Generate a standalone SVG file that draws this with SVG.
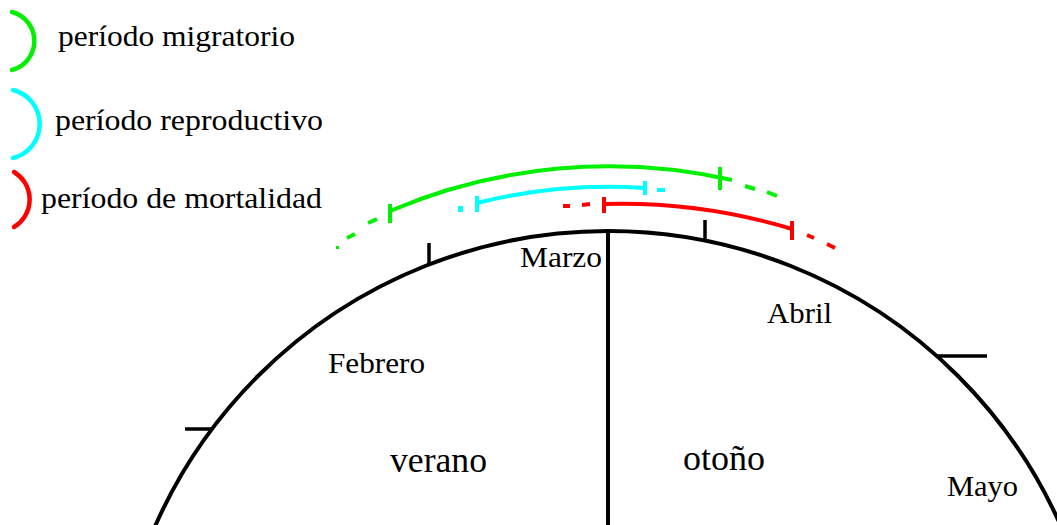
<svg xmlns="http://www.w3.org/2000/svg" width="1057" height="525" viewBox="0 0 1057 525">
<style>
.t{font-family:"Liberation Serif","Times New Roman",serif;fill:#000}
.m{font-size:30px}
.s{font-size:36px}
.blk{fill:none;stroke:#000;stroke-width:4}
.tk{fill:none;stroke:#000;stroke-width:3.5}
.g{fill:none;stroke:#00f000;stroke-width:4}
.c{fill:none;stroke:#00ffff;stroke-width:4}
.r{fill:none;stroke:#ff0000;stroke-width:4}
.lg{fill:none;stroke-width:4.5;stroke-linecap:round}
</style>
<rect width="1057" height="525" fill="#fff"/>
<g id="legend">
  <g id="legend-migratorio">
    <path class="lg" d="M12,12 A30,30 0 0 1 12,70" stroke="#00f000"/>
    <text class="t m" x="58" y="46" textLength="237" lengthAdjust="spacingAndGlyphs">período migratorio</text>
  </g>
  <g id="legend-reproductivo">
    <path class="lg" d="M13,90 A35,35 0 0 1 13,158" stroke="#00ffff"/>
    <text class="t m" x="55" y="130" textLength="268" lengthAdjust="spacingAndGlyphs">período reproductivo</text>
  </g>
  <g id="legend-mortalidad">
    <path class="lg" d="M14,172 A32,32 0 0 1 14,227" stroke="#ff0000"/>
    <text class="t m" x="41" y="208" textLength="281" lengthAdjust="spacingAndGlyphs">período de mortalidad</text>
  </g>
</g>
<g id="calendar">
  <circle class="blk" cx="608" cy="726" r="495"/>
  <line class="blk" x1="608" y1="231" x2="608" y2="525"/>
  <line class="tk" x1="429" y1="243" x2="429" y2="264"/>
  <line class="tk" x1="705" y1="220" x2="705" y2="241"/>
  <line class="tk" x1="185" y1="429" x2="212" y2="429"/>
  <line class="tk" x1="937" y1="356" x2="987" y2="356"/>
</g>
<g id="labels">
  <text id="marzo" class="t m" x="520" y="267" textLength="82" lengthAdjust="spacingAndGlyphs">Marzo</text>
  <text id="febrero" class="t m" x="328" y="373" textLength="97" lengthAdjust="spacingAndGlyphs">Febrero</text>
  <text id="abril" class="t m" x="767" y="323" textLength="65" lengthAdjust="spacingAndGlyphs">Abril</text>
  <text id="mayo" class="t m" x="947" y="496" textLength="71" lengthAdjust="spacingAndGlyphs">Mayo</text>
  <text id="verano" class="t s" x="390" y="472" textLength="97" lengthAdjust="spacingAndGlyphs">verano</text>
  <text id="otono" class="t s" x="683" y="470" textLength="82" lengthAdjust="spacingAndGlyphs">otoño</text>
</g>
<g id="periodo-migratorio">
  <path class="g" d="M390,211 A559,559 0 0 1 732,180"/>
  <line class="g" x1="390" y1="204" x2="390" y2="223"/>
  <line class="g" x1="720" y1="167" x2="720" y2="190"/>
  <line class="g" x1="745" y1="186" x2="755" y2="189"/>
  <line class="g" x1="767" y1="192" x2="777" y2="196"/>
  <line class="g" x1="368" y1="223" x2="377" y2="219"/>
  <line class="g" x1="347" y1="238" x2="355" y2="234"/>
  <rect x="336" y="246" width="3" height="3" fill="#00f000"/>
</g>
<g id="periodo-reproductivo">
  <path class="c" d="M477,203 A539,539 0 0 1 645,188"/>
  <line class="c" x1="477" y1="196" x2="477" y2="212"/>
  <line class="c" x1="645" y1="181" x2="645" y2="195"/>
  <rect x="458" y="206" width="5" height="6" fill="#00ffff"/>
  <line class="c" x1="657" y1="190" x2="665" y2="190"/>
</g>
<g id="periodo-mortalidad">
  <path class="r" d="M604,204 A588,588 0 0 1 792,229"/>
  <line class="r" x1="604" y1="197" x2="604" y2="213"/>
  <line class="r" x1="792" y1="221" x2="792" y2="240"/>
  <line class="r" x1="563" y1="206" x2="570" y2="206"/>
  <line class="r" x1="582" y1="205" x2="590" y2="204"/>
  <line class="r" x1="807" y1="235" x2="814" y2="238"/>
  <line class="r" x1="827" y1="244" x2="835" y2="248"/>
</g>
</svg>
